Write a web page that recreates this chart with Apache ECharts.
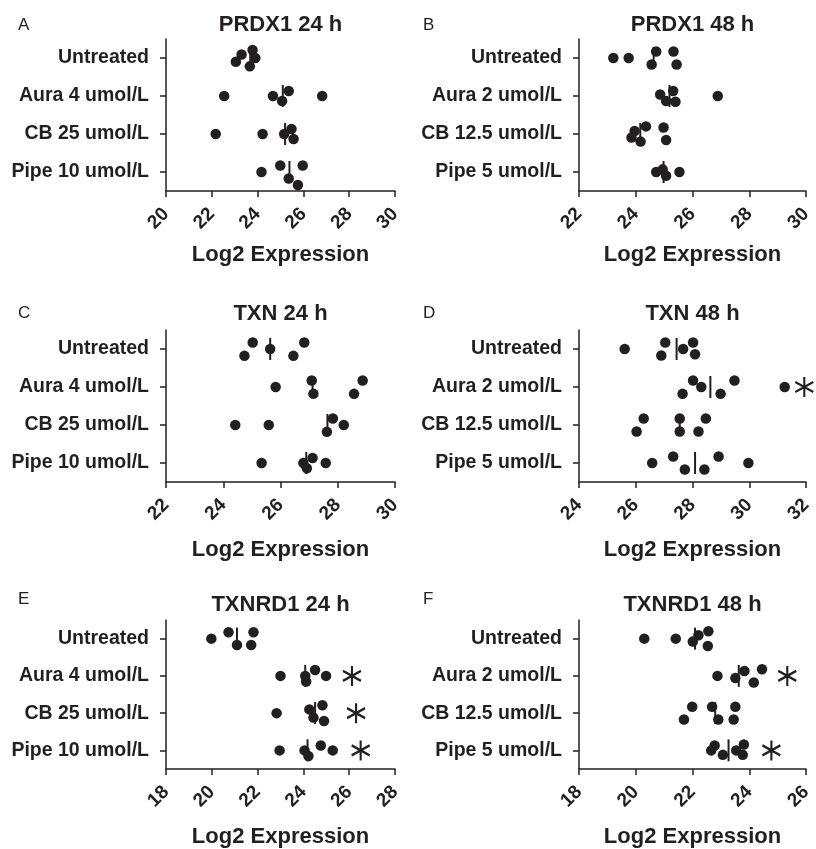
<!DOCTYPE html>
<html>
<head>
<meta charset="utf-8">
<script src="https://cdn.jsdelivr.net/npm/echarts@6/dist/echarts.min.js"></script>
<style>
    html, body { margin: 0; padding: 0; background: #fff; }
    #chart { width: 816px; height: 849px; }
</style>
</head>
<body>
<div id="chart"></div>
<script>
    // group names
    var groups24 = ['Untreated', 'Aura 4 umol/L', 'CB 25 umol/L', 'Pipe 10 umol/L'];
    var groups48 = ['Untreated', 'Aura 2 umol/L', 'CB 12.5 umol/L', 'Pipe 5 umol/L'];

    // PRDX1 24 h
    var prdx1_24_values = [
        [23.78, 23.30, 23.90, 23.05, 23.66],
        [22.54, 24.67, 25.36, 25.07, 26.82],
        [22.17, 24.22, 25.48, 25.16, 25.57],
        [24.17, 24.99, 25.97, 25.36, 25.76]
    ];
    var prdx1_24_rows = [
        [-0.21, -0.09, 0, 0.10, 0.22],
        [0, 0, -0.13, 0.13, 0],
        [0, 0, -0.13, 0, 0.13],
        [0, -0.17, -0.17, 0.17, 0.34]
    ];
    var prdx1_24_median = [23.68, 25.10, 25.20, 25.39];
    var prdx1_24_star = [null, null, null, null];

    // PRDX1 48 h
    var prdx1_48_values = [
        [23.21, 23.75, 24.72, 24.56, 25.33, 25.44],
        [24.86, 25.32, 25.07, 25.40, 26.89],
        [24.36, 23.96, 23.85, 24.17, 24.98, 25.07],
        [24.72, 24.95, 25.07, 25.54]
    ];
    var prdx1_48_rows = [
        [0, 0, -0.17, 0.17, -0.17, 0.17],
        [-0.04, -0.13, 0.13, 0.15, 0],
        [-0.2, -0.08, 0.09, 0.2, -0.17, 0.16],
        [0, -0.07, 0.1, 0]
    ];
    var prdx1_48_median = [24.63, 25.19, 24.16, 24.98];
    var prdx1_48_star = [null, null, null, null];

    // TXN 24 h
    var txn_24_values = [
        [25.03, 24.74, 25.64, 26.83, 26.45],
        [25.83, 27.09, 27.15, 28.87, 28.57],
        [24.42, 25.59, 27.83, 28.21, 27.62],
        [25.34, 27.12, 26.80, 26.92, 27.58]
    ];
    var txn_24_rows = [
        [-0.17, 0.18, 0, -0.17, 0.18],
        [0, -0.17, 0.18, -0.17, 0.18],
        [0, 0, -0.17, 0, 0.18],
        [0, -0.13, 0, 0.14, 0]
    ];
    var txn_24_median = [25.64, 27.12, 27.64, 26.90];
    var txn_24_star = [null, null, null, null];

    // TXN 48 h
    var txn_48_values = [
        [25.61, 27.04, 26.90, 27.67, 28.02, 28.09],
        [28.02, 28.31, 27.65, 29.48, 28.99, 31.25],
        [26.28, 26.03, 27.55, 27.55, 28.47, 28.21],
        [26.58, 27.32, 27.73, 28.92, 28.42, 29.97]
    ];
    var txn_48_rows = [
        [0, -0.17, 0.17, 0, -0.17, 0.14],
        [-0.17, 0, 0.18, -0.17, 0.18, 0],
        [-0.17, 0.17, -0.17, 0.17, -0.17, 0.17],
        [0, -0.17, 0.17, -0.17, 0.17, 0]
    ];
    var txn_48_median = [27.44, 28.63, 27.55, 28.09];
    var txn_48_star = [null, 31.94, null, null];

    // TXNRD1 24 h
    var txnrd1_24_values = [
        [19.98, 20.73, 21.10, 21.82, 21.72],
        [23.00, 24.08, 24.12, 24.51, 24.99],
        [22.83, 24.26, 24.44, 24.83, 24.90],
        [22.96, 24.05, 24.22, 24.76, 25.28]
    ];
    var txnrd1_24_rows = [
        [0, -0.17, 0.17, -0.17, 0.17],
        [0, 0, 0.15, -0.16, 0],
        [0, -0.1, 0.12, -0.21, 0.21],
        [0, 0, 0.15, -0.13, 0]
    ];
    var txnrd1_24_median = [21.10, 24.08, 24.51, 24.18];
    var txnrd1_24_star = [null, 26.12, 26.3, 26.5];

    // TXNRD1 48 h
    var txnrd1_48_values = [
        [20.30, 21.41, 22.21, 22.01, 22.56, 22.54],
        [22.88, 23.51, 23.83, 24.16, 24.45],
        [21.99, 21.70, 22.69, 22.91, 23.51, 23.45],
        [22.66, 22.78, 23.07, 23.54, 23.81, 23.77]
    ];
    var txnrd1_48_rows = [
        [0, 0, -0.09, 0.08, -0.2, 0.2],
        [0, 0.06, -0.13, 0.18, -0.18],
        [-0.17, 0.17, -0.17, 0.17, -0.17, 0.17],
        [0, -0.13, 0.12, 0, -0.16, 0.12]
    ];
    var txnrd1_48_median = [22.09, 23.63, 22.80, 23.27];
    var txnrd1_48_star = [null, 25.34, null, 24.78];

    var panels = [
        {letter: 'A', title: 'PRDX1 24 h', groups: groups24, min: 20, max: 30, values: prdx1_24_values, rows: prdx1_24_rows, median: prdx1_24_median, star: prdx1_24_star},
        {letter: 'B', title: 'PRDX1 48 h', groups: groups48, min: 22, max: 30, values: prdx1_48_values, rows: prdx1_48_rows, median: prdx1_48_median, star: prdx1_48_star},
        {letter: 'C', title: 'TXN 24 h', groups: groups24, min: 22, max: 30, values: txn_24_values, rows: txn_24_rows, median: txn_24_median, star: txn_24_star},
        {letter: 'D', title: 'TXN 48 h', groups: groups48, min: 24, max: 32, values: txn_48_values, rows: txn_48_rows, median: txn_48_median, star: txn_48_star},
        {letter: 'E', title: 'TXNRD1 24 h', groups: groups24, min: 18, max: 28, values: txnrd1_24_values, rows: txnrd1_24_rows, median: txnrd1_24_median, star: txnrd1_24_star},
        {letter: 'F', title: 'TXNRD1 48 h', groups: groups48, min: 18, max: 26, values: txnrd1_48_values, rows: txnrd1_48_rows, median: txnrd1_48_median, star: txnrd1_48_star}
    ];

    var ink = '#231f20';
    var font = '"Liberation Sans", Arial, Helvetica, sans-serif';
    var gridLeft = [166, 579];
    var gridWidth = [229, 227];
    var gridTop = [39, 330, 620];
    var titleY = [25, 314, 605];
    var letterX = [18, 423];
    var letterY = [25, 313, 599];
    var nameGap = [53, 57, 57];
    var starPath = 'path://M0,-10L0,10M-8.66,-5L8.66,5M-8.66,5L8.66,-5';

    var grid = [], xAxis = [], yAxis = [], series = [], graphic = [];

    panels.forEach(function (p, i) {
        var col = i % 2, row = Math.floor(i / 2);
        grid.push({left: gridLeft[col], top: gridTop[row], width: gridWidth[col], height: 152});

        xAxis.push({
            gridIndex: i,
            type: 'value',
            min: p.min,
            max: p.max,
            interval: 2,
            splitLine: {show: false},
            axisLine: {onZero: false, lineStyle: {color: ink, width: 1.5}},
            axisTick: {show: true, length: 6, lineStyle: {color: ink, width: 1.5}},
            axisLabel: {rotate: 45, margin: 20, color: ink, fontSize: 19, fontWeight: 'bold', fontFamily: font},
            name: 'Log2 Expression',
            nameLocation: 'middle',
            nameGap: nameGap[row],
            nameTextStyle: {color: ink, fontSize: 22, fontWeight: 'bold', fontFamily: font}
        });

        // visible category axis for the labels
        yAxis.push({
            gridIndex: i,
            type: 'category',
            data: p.groups,
            inverse: true,
            axisLine: {show: true, onZero: false, lineStyle: {color: ink, width: 1.5}},
            axisTick: {show: true, alignWithLabel: true, length: 6, lineStyle: {color: ink, width: 1.5}},
            axisLabel: {margin: 17, color: ink, fontSize: 19.5, fontWeight: 'bold', fontFamily: font}
        });
        // hidden value axis used to place the jittered points
        yAxis.push({
            gridIndex: i,
            type: 'value',
            show: false,
            inverse: true,
            min: -0.5,
            max: 3.5
        });

        var pts = [];
        p.values.forEach(function (vals, g) {
            vals.forEach(function (v, k) {
                pts.push([v, g + p.rows[g][k]]);
            });
        });
        series.push({
            type: 'scatter',
            xAxisIndex: i,
            yAxisIndex: 2 * i + 1,
            symbolSize: 10.5,
            itemStyle: {color: ink, opacity: 1},
            data: pts,
            silent: true
        });

        series.push({
            type: 'scatter',
            xAxisIndex: i,
            yAxisIndex: 2 * i + 1,
            symbol: 'rect',
            symbolSize: [2, 22],
            itemStyle: {color: ink, opacity: 1},
            data: p.median.map(function (m, g) { return [m, g]; }),
            silent: true
        });

        var stars = [];
        p.star.forEach(function (s, g) {
            if (s !== null) stars.push([s, g]);
        });
        series.push({
            type: 'scatter',
            xAxisIndex: i,
            yAxisIndex: 2 * i + 1,
            symbol: starPath,
            symbolSize: [18, 20],
            itemStyle: {color: 'none', borderColor: ink, borderWidth: 2.2, opacity: 1},
            data: stars,
            silent: true
        });

        graphic.push({
            type: 'text',
            x: gridLeft[col] + gridWidth[col] / 2,
            y: titleY[row],
            style: {text: p.title, font: 'bold 22px ' + font, fill: ink, textAlign: 'center', textVerticalAlign: 'middle', verticalAlign: 'middle'}
        });
        graphic.push({
            type: 'text',
            x: letterX[col],
            y: letterY[row],
            style: {text: p.letter, font: '17px ' + font, fill: ink, textAlign: 'left', textVerticalAlign: 'middle', verticalAlign: 'middle'}
        });
    });

    var chart = echarts.init(document.getElementById('chart'));
    chart.setOption({
        backgroundColor: '#fff',
        animation: false,
        grid: grid,
        xAxis: xAxis,
        yAxis: yAxis,
        series: series,
        graphic: graphic
    });
</script>
</body>
</html>
